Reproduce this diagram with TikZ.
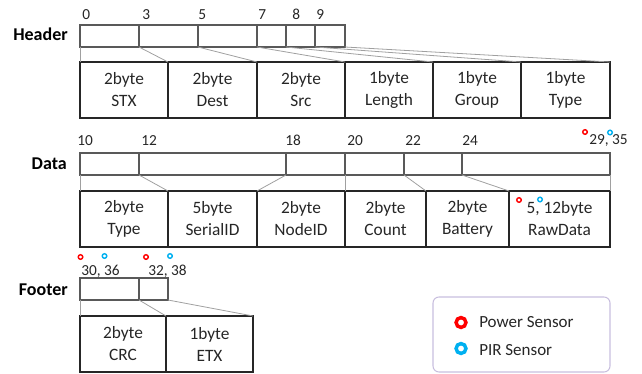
\documentclass[tikz,border=0pt]{standalone}
\usepackage{fontspec}
\setmainfont{Carlito}
\usepackage{tikz}

\definecolor{barc}{RGB}{89,89,89}
\definecolor{linkc}{RGB}{160,160,160}
\definecolor{txtc}{RGB}{38,38,38}
\definecolor{powred}{RGB}{255,0,0}
\definecolor{pirblue}{RGB}{0,176,240}
\definecolor{legc}{RGB}{200,190,222}

\begin{document}
\begin{tikzpicture}[x=0.75pt,y=-0.75pt,
  bit/.style={draw=barc,line width=1.1pt,minimum width=#1*0.75pt,minimum height=16.5pt,inner sep=0pt,outer sep=0pt,anchor=north west},
  field/.style={draw=txtc,line width=0.8pt,minimum width=#1*0.75pt,minimum height=42pt,inner sep=0pt,outer sep=0pt,anchor=north west,align=center,text=txtc,font=\fontsize{13}{16.5}\selectfont},
  link/.style={draw=linkc,line width=0.6pt},
  idx/.style={anchor=base west,inner sep=0pt,text=txtc,font=\fontsize{11.5}{13}\selectfont},
  part/.style={anchor=base east,inner sep=0pt,text=black,font=\fontsize{13.5}{15}\selectfont\bfseries},
  pwr/.style={circle,draw=powred,line width=1.1pt,minimum size=3.4pt,inner sep=0pt},
  pir/.style={circle,draw=pirblue,line width=1.1pt,minimum size=3.4pt,inner sep=0pt}]
\useasboundingbox (0,0) rectangle (642,374);

% header
\node[part] (header) at (68,41) {Header};
\node[bit=59] (h0) at (80,25) {};
\node[bit=59] (h3) at (139,25) {};
\node[bit=59] (h5) at (198,25) {};
\node[bit=29] (h7) at (257,25) {};
\node[bit=29] (h8) at (286,25) {};
\node[bit=30] (h9) at (315,25) {};

\node[idx] (i0) at (82,20) {0};
\node[idx] (i3) at (142,20) {3};
\node[idx] (i5) at (198,20) {5};
\node[idx] (i7) at (258,20) {7};
\node[idx] (i8) at (292,20) {8};
\node[idx] (i9) at (316,20) {9};

\node[field=88] (stx) at (80,62) {2byte\\STX};
\node[field=89] (dest) at (168,62) {2byte\\Dest};
\node[field=88] (src) at (257,62) {2byte\\Src};
\node[field=88] (len) at (345,62) {1byte\\Length};
\node[field=88] (grp) at (433,62) {1byte\\Group};
\node[field=89] (htype) at (521,62) {1byte\\Type};

\draw[link] (h0.south west) -- (stx.north west);
\draw[link] (h3.south west) -- (dest.north west);
\draw[link] (h5.south west) -- (src.north west);
\draw[link] (h7.south west) -- (len.north west);
\draw[link] (h8.south west) -- (grp.north west);
\draw[link] (h9.south west) -- (htype.north west);
\draw[link] (h9.south east) -- (htype.north east);

% data
\node[part] (data) at (67,170) {Data};
\node[bit=59] (d10) at (80,153) {};
\node[bit=147] (d12) at (139,153) {};
\node[bit=59] (d18) at (286,153) {};
\node[bit=59] (d20) at (345,153) {};
\node[bit=58] (d22) at (404,153) {};
\node[bit=148] (d24) at (462,153) {};

\node[idx] (i10) at (77,146) {10};
\node[idx] (i12) at (141,146) {12};
\node[idx] (i18) at (285,146) {18};
\node[idx] (i20) at (347,146) {20};
\node[idx] (i22) at (405,146) {22};
\node[idx] (i24) at (462,146) {24};
\node[idx] (i29) at (589,145) {29, 35};
\node[pwr] (p29) at (585,132) {};
\node[pir] (b35) at (610,132.5) {};

\node[field=88] (dtype) at (80,191) {2byte\\Type};
\node[field=89] (serial) at (168,191) {5byte\\SerialID};
\node[field=88] (nodeid) at (257,191) {2byte\\NodeID};
\node[field=81] (count) at (345,191) {2byte\\Count};
\node[field=83] (battery) at (426,191) {2byte\\Battery};
\node[field=101] (raw) at (509,191) {5, 12byte\\RawData};
\node[pwr] (p5) at (519,200) {};
\node[pir] (b12) at (540,199.5) {};

\draw[link] (d10.south west) -- (dtype.north west);
\draw[link] (d12.south west) -- (serial.north west);
\draw[link] (d18.south west) -- (nodeid.north west);
\draw[link] (d20.south west) -- (count.north west);
\draw[link] (d22.south west) -- (battery.north west);
\draw[link] (d24.south west) -- (raw.north west);
\draw[link] (d24.south east) -- (raw.north east);

% footer
\node[part] (footer) at (68,295) {Footer};
\node[bit=59] (f30) at (80,278) {};
\node[bit=29] (f32) at (139,278) {};

\node[idx] (i30) at (81,275) {30, 36};
\node[idx] (i32) at (148,275) {32, 38};
\node[pwr] (p30) at (80.5,257) {};
\node[pir] (b36) at (104.5,256) {};
\node[pwr] (p32) at (146,257) {};
\node[pir] (b38) at (170,256) {};

\node[field=86] (crc) at (80,316) {2byte\\CRC};
\node[field=87] (etx) at (166,316) {1byte\\ETX};

\draw[link] (f30.south west) -- (crc.north west);
\draw[link] (f32.south west) -- (etx.north west);
\draw[link] (f32.south east) -- (etx.north east);

% legend
\node[draw=legc,line width=0.8pt,rounded corners=4.5pt,minimum width=132.75pt,minimum height=56.25pt,inner sep=0pt,outer sep=0pt,anchor=north west] (legend) at (433,297) {};
\node[pwr,line width=2.6pt,minimum size=7.4pt] (pwrkey) at (461,322.5) {};
\node[pir,line width=2.6pt,minimum size=7.4pt] (pirkey) at (461,348.5) {};
\node[anchor=base west,inner sep=0pt,text=txtc,font=\fontsize{12.75}{15}\selectfont] (pwrtxt) at (479,327) {Power Sensor};
\node[anchor=base west,inner sep=0pt,text=txtc,font=\fontsize{12.75}{15}\selectfont] (pirtxt) at (479,355) {PIR Sensor};
\end{tikzpicture}
\end{document}
